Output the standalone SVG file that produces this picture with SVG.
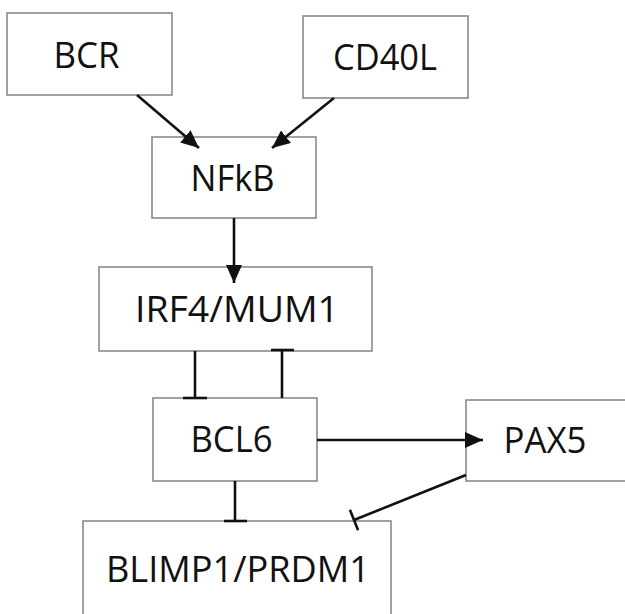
<svg xmlns="http://www.w3.org/2000/svg" width="625" height="614" viewBox="0 0 625 614">
<style>
.box{fill:#fff;stroke:#8a8a8a;stroke-width:1.6}
.lbl{font-family:"Open Sans","Noto Sans",sans-serif;font-size:36px;fill:#111;text-anchor:middle}
.edge{stroke:#111;stroke-width:2.6;fill:none}
</style>
<defs>
<marker id="arr" markerUnits="userSpaceOnUse" markerWidth="20" markerHeight="16" refX="18" refY="8" orient="auto">
<path d="M0,0 L18,8 L0,16 Z" fill="#111"/>
</marker>
</defs>
<rect width="625" height="614" fill="#fff"/>
<g id="BCR"><rect class="box" x="7" y="13" width="165" height="82"/><text class="lbl" x="86.5" y="68" textLength="66" lengthAdjust="spacingAndGlyphs">BCR</text></g>
<g id="CD40L"><rect class="box" x="303" y="16" width="165" height="82"/><text class="lbl" x="385" y="70" textLength="104" lengthAdjust="spacingAndGlyphs">CD40L</text></g>
<g id="NFkB"><rect class="box" x="152" y="137" width="164" height="81"/><text class="lbl" x="232.5" y="191" textLength="84" lengthAdjust="spacingAndGlyphs">NFkB</text></g>
<g id="IRF4"><rect class="box" x="99" y="267" width="273" height="84"/><text class="lbl" x="237" y="322" textLength="204" lengthAdjust="spacingAndGlyphs">IRF4/MUM1</text></g>
<g id="BCL6"><rect class="box" x="153" y="398" width="164" height="83"/><text class="lbl" x="231.5" y="452" textLength="82" lengthAdjust="spacingAndGlyphs">BCL6</text></g>
<g id="PAX5"><rect class="box" x="466" y="400" width="170" height="81"/><text class="lbl" x="545" y="453" textLength="83" lengthAdjust="spacingAndGlyphs">PAX5</text></g>
<g id="BLIMP1"><rect class="box" x="83" y="521" width="308" height="110"/><text class="lbl" x="238" y="582" textLength="264" lengthAdjust="spacingAndGlyphs">BLIMP1/PRDM1</text></g>
<g id="connectors">
<line class="edge" x1="137" y1="95" x2="199" y2="148" marker-end="url(#arr)"/>
<line class="edge" x1="334" y1="98" x2="272" y2="148" marker-end="url(#arr)"/>
<line class="edge" x1="234" y1="218" x2="234" y2="283" marker-end="url(#arr)"/>
<line class="edge" x1="317" y1="440" x2="483" y2="440" marker-end="url(#arr)"/>
<line class="edge" x1="195" y1="351" x2="195" y2="398"/>
<line class="edge" x1="183" y1="398" x2="207" y2="398"/>
<line class="edge" x1="282" y1="398" x2="282" y2="350"/>
<line class="edge" x1="271" y1="350" x2="294" y2="350"/>
<line class="edge" x1="235" y1="481" x2="235" y2="521"/>
<line class="edge" x1="224" y1="521" x2="247" y2="521"/>
<line class="edge" x1="466" y1="475" x2="354" y2="520"/>
<line class="edge" x1="349.9" y1="509.8" x2="358.1" y2="530.2"/>
</g>
</svg>
